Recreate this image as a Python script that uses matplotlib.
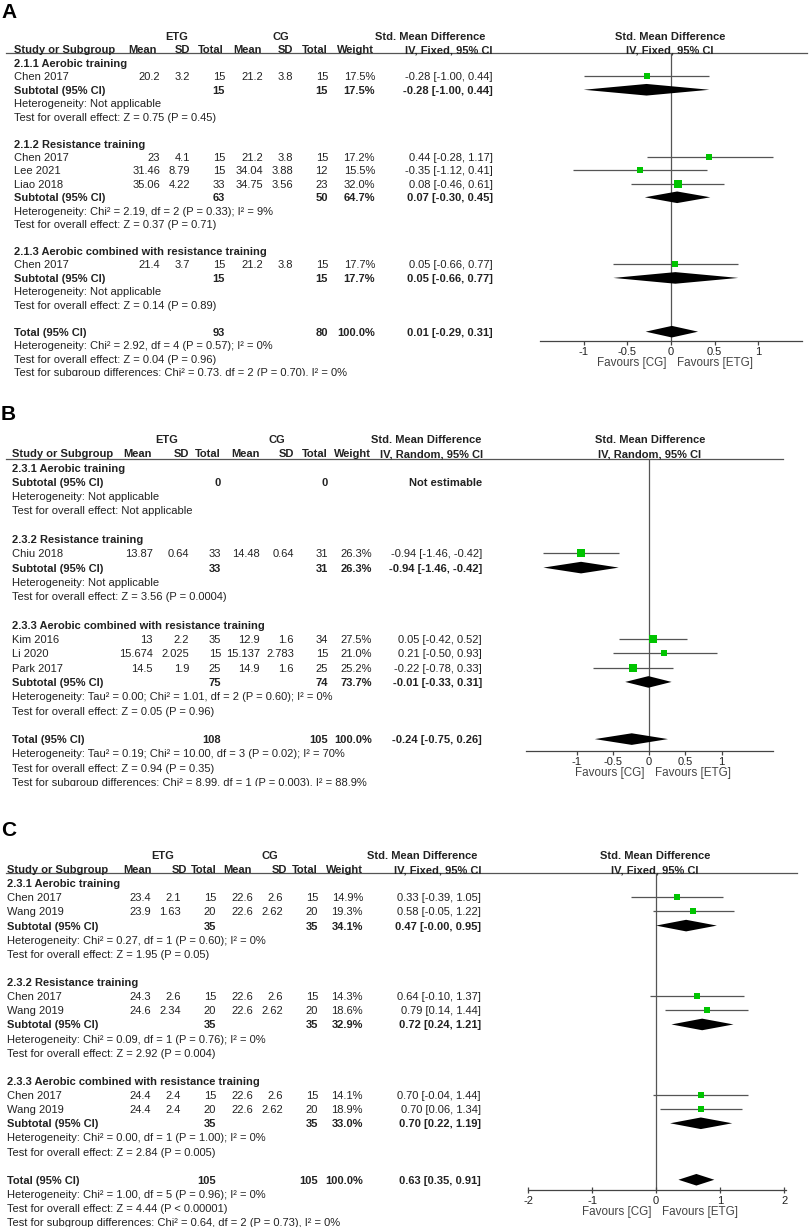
import matplotlib.pyplot as plt

plt.rcParams['font.family'] = ['Liberation Sans', 'DejaVu Sans']

W, H = 809, 1227
FS = 8
INK = '#222222'
LINE = '#555555'
GREEN = '#00c400'

# ---------------- panel A data ----------------
a_groups = ["2.1.1 Aerobic training", "2.1.2 Resistance training",
            "2.1.3 Aerobic combined with resistance training"]
a_group = [0, 1, 1, 1, 2]
a_study = ["Chen 2017", "Chen 2017", "Lee 2021", "Liao 2018", "Chen 2017"]
a_etg_mean = [20.2, 23, 31.46, 35.06, 21.4]
a_etg_sd = [3.2, 4.1, 8.79, 4.22, 3.7]
a_etg_n = [15, 15, 15, 33, 15]
a_cg_mean = [21.2, 21.2, 34.04, 34.75, 21.2]
a_cg_sd = [3.8, 3.8, 3.88, 3.56, 3.8]
a_cg_n = [15, 15, 12, 23, 15]
a_weight = [17.5, 17.2, 15.5, 32.0, 17.7]
a_smd = [-0.28, 0.44, -0.35, 0.08, 0.05]
a_lo = [-1.00, -0.28, -1.12, -0.46, -0.66]
a_hi = [0.44, 1.17, 0.41, 0.61, 0.77]
a_sub_etg_n = [15, 63, 15]
a_sub_cg_n = [15, 50, 15]
a_sub_weight = [17.5, 64.7, 17.7]
a_sub_smd = [-0.28, 0.07, 0.05]
a_sub_lo = [-1.00, -0.30, -0.66]
a_sub_hi = [0.44, 0.45, 0.77]
a_sub_het = ["Heterogeneity: Not applicable",
             "Heterogeneity: Chi² = 2.19, df = 2 (P = 0.33); I² = 9%",
             "Heterogeneity: Not applicable"]
a_sub_z = ["Test for overall effect: Z = 0.75 (P = 0.45)",
           "Test for overall effect: Z = 0.37 (P = 0.71)",
           "Test for overall effect: Z = 0.14 (P = 0.89)"]
a_total = [93, 80, 100.0, 0.01, -0.29, 0.31]
a_notes = ["Heterogeneity: Chi² = 2.92, df = 4 (P = 0.57); I² = 0%",
           "Test for overall effect: Z = 0.04 (P = 0.96)",
           "Test for subgroup differences: Chi² = 0.73, df = 2 (P = 0.70), I² = 0%"]

# ---------------- panel B data ----------------
b_groups = ["2.3.1 Aerobic training", "2.3.2 Resistance training",
            "2.3.3 Aerobic combined with resistance training"]
b_group = [1, 2, 2, 2]
b_study = ["Chiu 2018", "Kim 2016", "Li 2020", "Park 2017"]
b_etg_mean = [13.87, 13, 15.674, 14.5]
b_etg_sd = [0.64, 2.2, 2.025, 1.9]
b_etg_n = [33, 35, 15, 25]
b_cg_mean = [14.48, 12.9, 15.137, 14.9]
b_cg_sd = [0.64, 1.6, 2.783, 1.6]
b_cg_n = [31, 34, 15, 25]
b_weight = [26.3, 27.5, 21.0, 25.2]
b_smd = [-0.94, 0.05, 0.21, -0.22]
b_lo = [-1.46, -0.42, -0.50, -0.78]
b_hi = [-0.42, 0.52, 0.93, 0.33]
b_sub_etg_n = [0, 33, 75]
b_sub_cg_n = [0, 31, 74]
b_sub_weight = [None, 26.3, 73.7]
b_sub_smd = [None, -0.94, -0.01]
b_sub_lo = [None, -1.46, -0.33]
b_sub_hi = [None, -0.42, 0.31]
b_sub_het = ["Heterogeneity: Not applicable",
             "Heterogeneity: Not applicable",
             "Heterogeneity: Tau² = 0.00; Chi² = 1.01, df = 2 (P = 0.60); I² = 0%"]
b_sub_z = ["Test for overall effect: Not applicable",
           "Test for overall effect: Z = 3.56 (P = 0.0004)",
           "Test for overall effect: Z = 0.05 (P = 0.96)"]
b_total = [108, 105, 100.0, -0.24, -0.75, 0.26]
b_notes = ["Heterogeneity: Tau² = 0.19; Chi² = 10.00, df = 3 (P = 0.02); I² = 70%",
           "Test for overall effect: Z = 0.94 (P = 0.35)",
           "Test for subgroup differences: Chi² = 8.99, df = 1 (P = 0.003), I² = 88.9%"]

# ---------------- panel C data ----------------
c_groups = ["2.3.1 Aerobic training", "2.3.2 Resistance training",
            "2.3.3 Aerobic combined with resistance training"]
c_group = [0, 0, 1, 1, 2, 2]
c_study = ["Chen 2017", "Wang 2019", "Chen 2017", "Wang 2019", "Chen 2017", "Wang 2019"]
c_etg_mean = [23.4, 23.9, 24.3, 24.6, 24.4, 24.4]
c_etg_sd = [2.1, 1.63, 2.6, 2.34, 2.4, 2.4]
c_etg_n = [15, 20, 15, 20, 15, 20]
c_cg_mean = [22.6, 22.6, 22.6, 22.6, 22.6, 22.6]
c_cg_sd = [2.6, 2.62, 2.6, 2.62, 2.6, 2.62]
c_cg_n = [15, 20, 15, 20, 15, 20]
c_weight = [14.9, 19.3, 14.3, 18.6, 14.1, 18.9]
c_smd = [0.33, 0.58, 0.64, 0.79, 0.70, 0.70]
c_lo = [-0.39, -0.05, -0.10, 0.14, -0.04, 0.06]
c_hi = [1.05, 1.22, 1.37, 1.44, 1.44, 1.34]
c_sub_etg_n = [35, 35, 35]
c_sub_cg_n = [35, 35, 35]
c_sub_weight = [34.1, 32.9, 33.0]
c_sub_smd = [0.47, 0.72, 0.70]
c_sub_lo = [-0.0, 0.24, 0.22]
c_sub_hi = [0.95, 1.21, 1.19]
c_sub_het = ["Heterogeneity: Chi² = 0.27, df = 1 (P = 0.60); I² = 0%",
             "Heterogeneity: Chi² = 0.09, df = 1 (P = 0.76); I² = 0%",
             "Heterogeneity: Chi² = 0.00, df = 1 (P = 1.00); I² = 0%"]
c_sub_z = ["Test for overall effect: Z = 1.95 (P = 0.05)",
           "Test for overall effect: Z = 2.92 (P = 0.004)",
           "Test for overall effect: Z = 2.84 (P = 0.005)"]
c_total = [105, 105, 100.0, 0.63, 0.35, 0.91]
c_notes = ["Heterogeneity: Chi² = 1.00, df = 5 (P = 0.96); I² = 0%",
           "Test for overall effect: Z = 4.44 (P < 0.00001)",
           "Test for subgroup differences: Chi² = 0.64, df = 2 (P = 0.73), I² = 0%"]

# ---------------- layout (pixels of the 809x1227 canvas) ----------------
lay_a = dict(top=0, clip=376, letter_y=12, y0=36, step=13.44, name=14,
             num=[160, 190, 225, 263, 293, 328, 375, 493],
             head=[157, 190, 224, 262, 293, 328, 374, 493],
             etg=177, cg=281, smd_head=430, fhead=670, rule_y=53, rule_end=807,
             fx=(540, 802), fy=(53, 341), xlim=(-1.5, 1.5),
             ticks=[-1, -0.5, 0, 0.5, 1], tickdir='out', ticklen=3, tickpad=1.5)
lay_b = dict(top=388, clip=786, letter_y=415, y0=439, step=14.29, name=12,
             num=[153, 189, 221, 260, 294, 328, 372, 482],
             head=[152, 189, 221, 260, 294, 328, 371, 483],
             etg=167, cg=277, smd_head=426, fhead=650, rule_y=459, rule_end=783,
             fx=(526, 773), fy=(459, 751), xlim=(-1.7, 1.71),
             ticks=[-1, -0.5, 0, 0.5, 1], tickdir='out', ticklen=3, tickpad=1.5)
lay_c = dict(top=790, clip=1227, letter_y=831, y0=855, step=14.12, name=7,
             num=[151, 181, 216, 253, 283, 318, 363, 481],
             head=[152, 187, 217, 252, 287, 318, 363, 482],
             etg=163, cg=270, smd_head=422, fhead=655, rule_y=873, rule_end=797,
             fx=(528, 786), fy=(873, 1190), xlim=(-2, 2.03),
             ticks=[-2, -1, 0, 1, 2], tickdir='inout', ticklen=5, tickpad=1.5)


def fmt(v):
    return f"{v:g}"


def ci_text(m, lo, hi):
    return f"{m:.2f} [{lo:.2f}, {hi:.2f}]"


def draw_panel(fig, letter, lay, method, groups, st, sub, tot, notes):
    grp, names, m1, s1, n1, m2, s2, n2, wt, smd, lo, hi = st
    sn1, sn2, sw, ssmd, slo, shi, shet, sz = sub

    tax = fig.add_axes([0, 1 - lay['clip'] / H, 1, (lay['clip'] - lay['top']) / H])
    tax.set_xlim(0, W)
    tax.set_ylim(lay['clip'], lay['top'])
    tax.axis('off')

    def put(x, y, s, ha='left', bold=False, size=FS):
        tax.text(x, y + 4, s, ha=ha, va='baseline', fontsize=size,
                 fontweight='bold' if bold else 'normal', color=INK, clip_on=True)

    tax.text(1, lay['letter_y'], letter, fontsize=15, fontweight='bold',
             va='center', ha='left', color='black')

    # header
    y0, step = lay['y0'], lay['step']
    put(lay['etg'], y0, "ETG", 'center', True)
    put(lay['cg'], y0, "CG", 'center', True)
    put(lay['smd_head'], y0, "Std. Mean Difference", 'center', True)
    put(lay['fhead'], y0, "Std. Mean Difference", 'center', True)
    y1 = y0 + step
    put(lay['name'], y1, "Study or Subgroup", bold=True)
    for x, s in zip(lay['head'], ["Mean", "SD", "Total", "Mean", "SD", "Total",
                                  "Weight", method]):
        put(x, y1, s, 'right', True)
    put(lay['fhead'], y1, method, 'center', True)
    tax.plot([6, lay['rule_end']], [lay['rule_y']] * 2, color=LINE, lw=0.9)

    # forest axes
    fx0, fx1 = lay['fx']
    fyt, fyb = lay['fy']
    fax = fig.add_axes([fx0 / W, 1 - fyb / H, (fx1 - fx0) / W, (fyb - fyt) / H])
    fax.set_xlim(*lay['xlim'])
    fax.set_ylim(fyb, fyt)
    fax.patch.set_alpha(0)
    for s in ['top', 'right', 'left']:
        fax.spines[s].set_visible(False)
    fax.spines['bottom'].set_color('#444444')
    fax.spines['bottom'].set_linewidth(0.9)
    fax.set_yticks([])
    fax.set_xticks(lay['ticks'])
    fax.set_xticklabels([fmt(t) for t in lay['ticks']])
    fax.tick_params(axis='x', direction=lay['tickdir'], length=lay['ticklen'],
                    width=0.9, color='#444444', labelcolor=INK, labelsize=FS,
                    pad=lay['tickpad'])
    fax.axvline(0, color=LINE, lw=0.9, zorder=1)
    fax.annotate("Favours [CG]", xy=(0, 0), xycoords=('data', 'axes fraction'),
                 xytext=(-3.5, -16), textcoords='offset points', ha='right',
                 va='center', fontsize=8.4, color='#444444')
    fax.annotate("Favours [ETG]", xy=(0, 0), xycoords=('data', 'axes fraction'),
                 xytext=(4, -16), textcoords='offset points', ha='left',
                 va='center', fontsize=8.4, color='#444444')

    def diamond(m, l, h, y):
        fax.fill([l, m, h, m], [y, y - 5.8, y, y + 5.8], color='black', lw=0, zorder=3)

    # body rows
    rows = []
    for g in range(len(groups)):
        rows.append(('group', g))
        for i in range(len(names)):
            if grp[i] == g:
                rows.append(('study', i))
        rows.append(('sub', g))
        rows.append(('note', shet[g]))
        rows.append(('note', sz[g]))
        rows.append(('blank', None))
    rows.append(('total', None))
    for n in notes:
        rows.append(('note', n))

    cols = lay['num']
    for k, (kind, v) in enumerate(rows):
        y = y0 + (k + 2) * step
        if kind == 'group':
            put(lay['name'], y, groups[v], bold=True)
        elif kind == 'note':
            put(lay['name'], y, v)
        elif kind == 'study':
            put(lay['name'], y, names[v])
            vals = [fmt(m1[v]), fmt(s1[v]), str(n1[v]), fmt(m2[v]), fmt(s2[v]),
                    str(n2[v]), f"{wt[v]:.1f}%", ci_text(smd[v], lo[v], hi[v])]
            for x, s in zip(cols, vals):
                put(x, y, s, 'right')
            fax.hlines(y, lo[v], hi[v], color=LINE, lw=0.9, zorder=2)
            side = 1.45 * wt[v] ** 0.5 * 0.72
            fax.scatter([smd[v]], [y], marker='s', s=side ** 2, color=GREEN,
                        lw=0, zorder=4)
        elif kind == 'sub':
            put(lay['name'], y, "Subtotal (95% CI)", bold=True)
            put(cols[2], y, str(sn1[v]), 'right', True)
            put(cols[5], y, str(sn2[v]), 'right', True)
            if ssmd[v] is None:
                put(cols[7], y, "Not estimable", 'right', True)
            else:
                put(cols[6], y, f"{sw[v]:.1f}%", 'right', True)
                put(cols[7], y, ci_text(ssmd[v], slo[v], shi[v]), 'right', True)
                diamond(ssmd[v], slo[v], shi[v], y)
        elif kind == 'total':
            tn1, tn2, tw, tm, tl, th = tot
            put(lay['name'], y, "Total (95% CI)", bold=True)
            put(cols[2], y, str(tn1), 'right', True)
            put(cols[5], y, str(tn2), 'right', True)
            put(cols[6], y, f"{tw:.1f}%", 'right', True)
            put(cols[7], y, ci_text(tm, tl, th), 'right', True)
            diamond(tm, tl, th, y)


fig = plt.figure(figsize=(W / 100, H / 100), dpi=100)
fig.patch.set_facecolor('white')

draw_panel(fig, "A", lay_a, "IV, Fixed, 95% CI", a_groups,
           (a_group, a_study, a_etg_mean, a_etg_sd, a_etg_n, a_cg_mean, a_cg_sd,
            a_cg_n, a_weight, a_smd, a_lo, a_hi),
           (a_sub_etg_n, a_sub_cg_n, a_sub_weight, a_sub_smd, a_sub_lo, a_sub_hi,
            a_sub_het, a_sub_z),
           a_total, a_notes)
draw_panel(fig, "B", lay_b, "IV, Random, 95% CI", b_groups,
           (b_group, b_study, b_etg_mean, b_etg_sd, b_etg_n, b_cg_mean, b_cg_sd,
            b_cg_n, b_weight, b_smd, b_lo, b_hi),
           (b_sub_etg_n, b_sub_cg_n, b_sub_weight, b_sub_smd, b_sub_lo, b_sub_hi,
            b_sub_het, b_sub_z),
           b_total, b_notes)
draw_panel(fig, "C", lay_c, "IV, Fixed, 95% CI", c_groups,
           (c_group, c_study, c_etg_mean, c_etg_sd, c_etg_n, c_cg_mean, c_cg_sd,
            c_cg_n, c_weight, c_smd, c_lo, c_hi),
           (c_sub_etg_n, c_sub_cg_n, c_sub_weight, c_sub_smd, c_sub_lo, c_sub_hi,
            c_sub_het, c_sub_z),
           c_total, c_notes)

fig.savefig("out.png", dpi=100)
